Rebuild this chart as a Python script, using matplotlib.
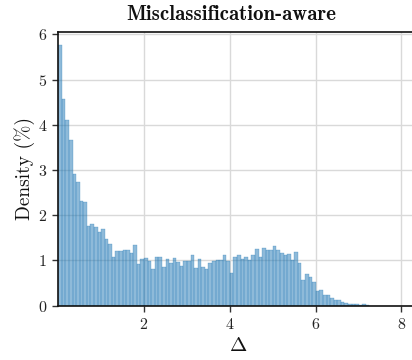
import numpy as np
import matplotlib
matplotlib.use("Agg")
import matplotlib.pyplot as plt

plt.rcParams['font.family'] = 'serif'
plt.rcParams['font.serif'] = ['cmr10']
plt.rcParams['mathtext.fontset'] = 'cm'
plt.rcParams['axes.formatter.use_mathtext'] = True

# percentuale di campioni per bin (larghezza bin = 1/12)
bin_start = 0.004
bin_width = 1 / 12
density_pct = [
    5.77, 4.57, 4.10, 3.67, 2.92, 2.74, 2.32, 2.30, 1.77, 1.81,
    1.73, 1.62, 1.70, 1.48, 1.37, 1.08, 1.20, 1.22, 1.23, 1.24,
    1.17, 1.35, 0.93, 1.04, 1.05, 0.99, 0.82, 1.08, 1.08, 0.86,
    1.04, 0.95, 1.06, 0.97, 0.88, 0.99, 0.99, 1.13, 0.84, 1.04,
    0.86, 0.82, 0.95, 0.99, 1.02, 1.02, 1.13, 0.99, 0.73, 1.08,
    1.11, 1.04, 1.08, 1.01, 1.11, 1.26, 1.08, 1.28, 1.24, 1.24,
    1.33, 1.24, 1.17, 1.12, 1.15, 1.02, 1.19, 0.95, 0.57, 0.71,
    0.64, 0.53, 0.33, 0.35, 0.24, 0.24, 0.18, 0.13, 0.12, 0.08,
    0.06, 0.04, 0.04, 0.04, 0.01, 0.04, 0.005,
]
x_ticks = [2, 4, 6, 8]
y_ticks = [0, 1, 2, 3, 4, 5, 6]

fig = plt.figure(figsize=(4.12, 3.6), dpi=100)
# assi posizionati in pixel (figura 412x360)
ax = fig.add_axes([58.2 / 412, (360 - 305.7) / 360, 360 / 412, 273.4 / 360])

edges = bin_start + bin_width * np.arange(len(density_pct))
ax.bar(edges, density_pct, width=bin_width, align='edge',
       color='#1f77b4', edgecolor='#1f77b4', linewidth=0.35, alpha=0.5, zorder=2)

ax.set_xlim(bin_start, 8.39)
ax.set_ylim(0, 6.045)
ax.set_xticks(x_ticks)
ax.set_yticks(y_ticks)
ax.grid(True, color='#d9d9d9', linewidth=1.0, zorder=0)
ax.set_axisbelow(True)

for side in ['top', 'left', 'bottom', 'right']:
    ax.spines[side].set_linewidth(1.2)
    ax.spines[side].set_color('#111111')
ax.tick_params(axis='both', direction='out', length=4, width=1.0,
               color='#333333', labelsize=11.5, labelcolor='#222222', pad=4)

ax.set_xlabel(r'$\Delta$', fontsize=15, labelpad=4, color='#111111')
ax.set_ylabel('Density (%)', fontsize=14, labelpad=2, color='#111111')
ax.set_title('Misclassification-aware', fontfamily='cmb10', fontsize=15,
             x=(231.5 - 58.2) / 360, pad=9, color='#111111')

plt.savefig("out.png", dpi=100)
plt.close()
